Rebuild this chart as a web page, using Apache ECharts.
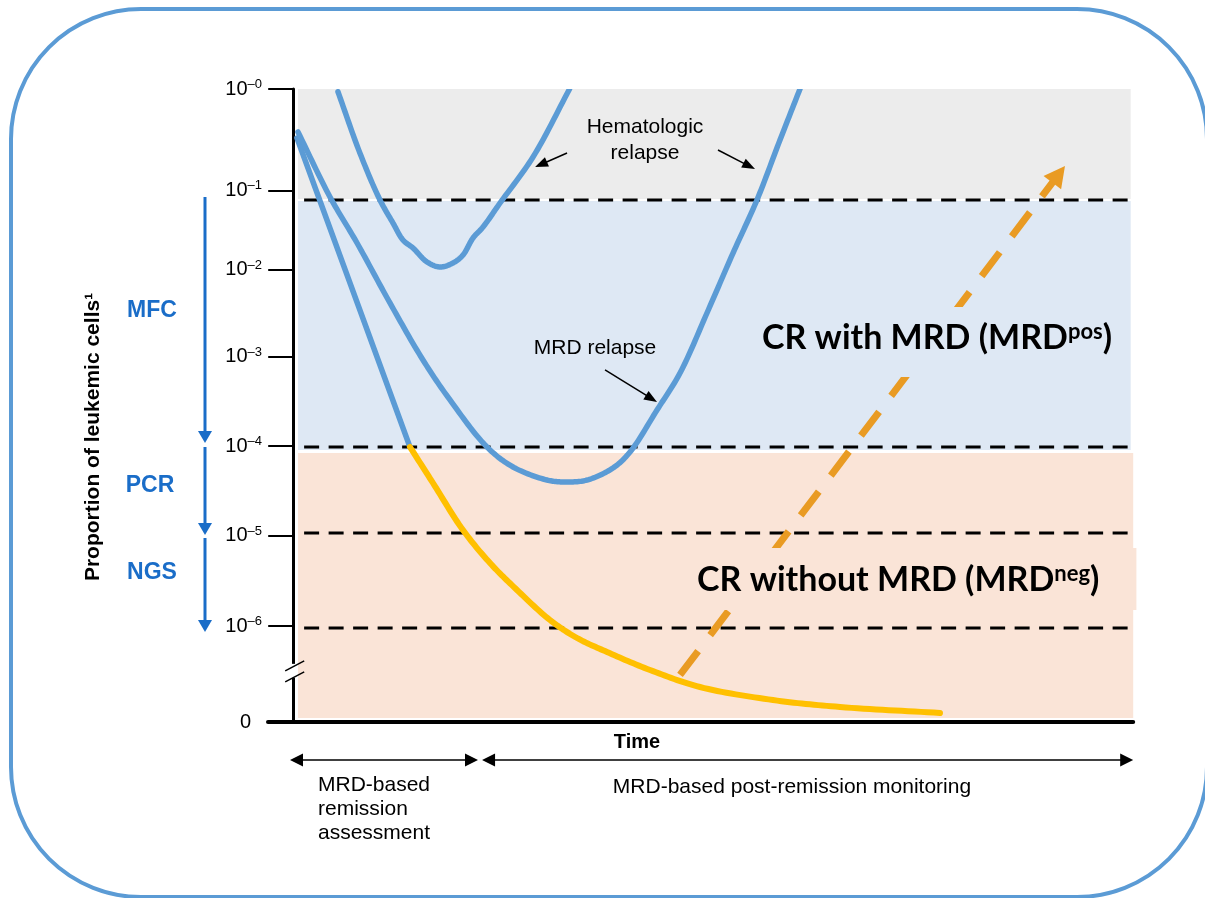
<!DOCTYPE html>
<html><head><meta charset="utf-8">
<script src="https://cdn.jsdelivr.net/npm/echarts@6/dist/echarts.min.js"></script>
<style>html,body{margin:0;padding:0;background:#fff}#c{width:1205px;height:898px}</style>
</head><body><div id="c"></div>
<script>
// ---------- data (schematic chart levels: 0 = 10^-0 ... -7 = "0") ----------
const yTickValues = [0, -1.12, -2.0, -2.96, -3.95, -4.94, -5.94, -7];
const yTickExponents = ['–0', '–1', '–2', '–3', '–4', '–5', '–6', ''];
const thresholdLevels = [-1.227, -3.959, -4.91, -5.96];
const thresholdSpan = [1.3, 99.6];
const zoneBounds = [
  [0.57, 0, 99.7, -1.216],
  [0.57, -1.239, 99.7, -3.992],
  [0.57, -4.025, 100, -6.956]
];
const hematologicRelapse = [[5.33,-0.03],[7.95,-0.71],[10.33,-1.227],[11.88,-1.482],[13.07,-1.67],[14.26,-1.758],[15.93,-1.913],[17.48,-1.968],[19.02,-1.924],[20.21,-1.836],[21.4,-1.648],[22.6,-1.526],[24.62,-1.261],[28.55,-0.752],[32.9,0]];
const directToNegative = [[0.45,-0.542],[13.9,-3.959]];
const mrdRelapse = [[0.57,-0.475],[4.38,-1.194],[7.6,-1.703],[11.52,-2.366],[15.45,-2.997],[18.67,-3.439],[23.07,-3.959],[26.17,-4.18],[30.21,-4.324],[32.36,-4.346],[34.98,-4.324],[38.07,-4.191],[40.1,-4.014],[43.31,-3.55],[46.05,-3.141],[49.26,-2.477],[52.36,-1.814],[55.21,-1.227],[57.95,-0.564],[60.33,0]];
const mrdNegative = [[13.9,-3.959],[16.64,-4.357],[20.21,-4.877],[23.43,-5.242],[26.64,-5.54],[30.57,-5.872],[33.79,-6.071],[37.36,-6.226],[42.48,-6.425],[48.43,-6.613],[57.12,-6.757],[65.1,-6.834],[77.0,-6.9]];
const mrdPositiveArrow = [[46.05,-6.48,91.88,-0.851]];
const calloutArrows = [[32.6,-0.708,28.79,-0.863],[50.57,-0.675,54.98,-0.885],[37.12,-3.107,43.31,-3.461]];
const methodArrows = [[-10.5,-1.194,-10.5,-3.915],[-10.5,-3.959,-10.5,-4.932],[-10.5,-4.965,-10.5,-6.005]];
const phaseArrows = [[-0.38,-7.42,22.0,-7.42],[22.48,-7.42,100,-7.42]];
const methodLabels = ['MFC', 'PCR', 'NGS'];
const methodLabelPos = [[-16.81,-2.455],[-17.05,-4.39],[-16.81,-5.352]];

// ---------- styles ----------
const zoneColors = ['#ECECEC', '#DEE8F4', '#FAE4D7'];
const BLUE = '#5B9BD5', YELLOW = '#FFC000', ORANGE = '#E99B23', METHOD = '#1A6DC8';
const SANS = 'Liberation Sans, Arial, sans-serif';
const CAL = 'Lato, Carlito, Calibri, sans-serif';

function arrowSeries(name, data, st) {
  return {
    type: 'custom', name, coordinateSystem: 'cartesian2d', silent: true, z: st.z || 6,
    clip: false, data, encode: { x: [0, 2], y: [1, 3] },
    renderItem: function (params, api) {
      const a = api.coord([api.value(0), api.value(1)]);
      const b = api.coord([api.value(2), api.value(3)]);
      const dx = b[0] - a[0], dy = b[1] - a[1], L = Math.hypot(dx, dy);
      const ux = dx / L, uy = dy / L, nx = -uy, ny = ux;
      const hl = st.headLen, hw = st.headW;
      const head = (tip, sx, sy) => {
        const bx = tip[0] - sx * hl, by = tip[1] - sy * hl;
        return { type: 'polygon', shape: { points: [tip, [bx + nx * hw / 2, by + ny * hw / 2], [bx - nx * hw / 2, by - ny * hw / 2]] }, style: { fill: st.color } };
      };
      const start = st.double ? [a[0] + ux * (hl - 1), a[1] + uy * (hl - 1)] : a;
      const end = [b[0] - ux * (hl - 1), b[1] - uy * (hl - 1)];
      const children = [{ type: 'line', shape: { x1: start[0], y1: start[1], x2: end[0], y2: end[1] },
        style: { stroke: st.color, lineWidth: st.lw, lineDash: st.dash || null, lineCap: 'butt' } }];
      children.push(head(b, ux, uy));
      if (st.double) children.push(head(a, -ux, -uy));
      return { type: 'group', children };
    }
  };
}

// centripetal Catmull-Rom through the pixel positions given by the axes
function spline(P, n) {
  if (P.length < 3) return P;
  const lerp = (a, b, ta, tb, t) => { const w = (t - ta) / (tb - ta); return [a[0] * (1 - w) + b[0] * w, a[1] * (1 - w) + b[1] * w]; };
  const d = (a, b) => Math.pow(Math.hypot(b[0] - a[0], b[1] - a[1]), 0.5) || 1e-4;
  const out = [P[0]];
  for (let i = 0; i < P.length - 1; i++) {
    const p1 = P[i], p2 = P[i + 1];
    const p0 = P[i - 1] || [2 * p1[0] - p2[0], 2 * p1[1] - p2[1]];
    const p3 = P[i + 2] || [2 * p2[0] - p1[0], 2 * p2[1] - p1[1]];
    const t0 = 0, t1 = t0 + d(p0, p1), t2 = t1 + d(p1, p2), t3 = t2 + d(p2, p3);
    for (let k = 1; k <= n; k++) {
      const t = t1 + (t2 - t1) * k / n;
      const A1 = lerp(p0, p1, t0, t1, t), A2 = lerp(p1, p2, t1, t2, t), A3 = lerp(p2, p3, t2, t3, t);
      const B1 = lerp(A1, A2, t0, t2, t), B2 = lerp(A2, A3, t1, t3, t);
      out.push(lerp(B1, B2, t1, t2, t));
    }
  }
  return out;
}
function curve(name, points, color, width, z) {
  return { type: 'custom', name, coordinateSystem: 'cartesian2d', silent: true, z, clip: true,
    data: [points[0]], encode: { x: 0, y: 1 },
    renderItem: function (params, api) {
      const px = points.map(p => api.coord(p));
      return { type: 'polyline', shape: { points: spline(px, 16) },
        style: { stroke: color, lineWidth: width, fill: null, lineJoin: 'round', lineCap: 'round' } };
    } };
}

const chart = echarts.init(document.getElementById('c'), null, { renderer: 'canvas' });
const option = {
  animation: false,
  backgroundColor: '#fff',
  grid: { left: 268, top: 89, width: 865.2, height: 633 },
  xAxis: { type: 'value', min: -3, max: 100,
    axisLine: { onZero: false, lineStyle: { color: '#000', width: 4 } },
    axisTick: { show: false }, axisLabel: { show: false }, splitLine: { show: false } },
  yAxis: { type: 'value', min: -7, max: 0,
    axisLine: { onZero: true, lineStyle: { color: '#000', width: 3 } },
    axisTick: { customValues: yTickValues, length: 25, lineStyle: { color: '#000', width: 2 } },
    axisLabel: { customValues: yTickValues, margin: 6,
      formatter: function (v) {
        let i = 0, best = 1e9;
        yTickValues.forEach((t, k) => { if (Math.abs(t - v) < best) { best = Math.abs(t - v); i = k; } });
        return yTickExponents[i] ? '{b|10}{s|' + yTickExponents[i] + '}' : '{z|0}';
      },
      rich: {
        b: { fontSize: 20, fontFamily: SANS, color: '#000', lineHeight: 22 },
        s: { fontSize: 13, fontFamily: SANS, color: '#000', verticalAlign: 'top', lineHeight: 14 },
        z: { fontSize: 20, fontFamily: SANS, color: '#000', padding: [0, 11, 0, 0] }
      } },
    splitLine: { show: false } },
  series: [
    { type: 'custom', name: 'zones', coordinateSystem: 'cartesian2d', silent: true, z: 1,
      data: zoneBounds, encode: { x: [0, 2], y: [1, 3] },
      renderItem: function (params, api) {
        const p1 = api.coord([api.value(0), api.value(1)]);
        const p2 = api.coord([api.value(2), api.value(3)]);
        return { type: 'rect', shape: { x: p1[0], y: p1[1], width: p2[0] - p1[0], height: p2[1] - p1[1] },
          style: { fill: zoneColors[params.dataIndex] } };
      } },
    { type: 'custom', name: 'thresholds', coordinateSystem: 'cartesian2d', silent: true, z: 2,
      data: thresholdLevels.map(v => [v]), encode: { y: 0 },
      renderItem: function (params, api) {
        const p1 = api.coord([thresholdSpan[0], api.value(0)]);
        const p2 = api.coord([thresholdSpan[1], api.value(0)]);
        return { type: 'line', shape: { x1: p1[0], y1: p1[1], x2: p2[0], y2: p2[1] },
          style: { stroke: '#000', lineWidth: 3, lineDash: [15, 9.5] } };
      } },
    { type: 'custom', name: 'axisBreak', coordinateSystem: 'cartesian2d', silent: true, z: 3,
      data: [[0, -6.44]], encode: { x: 0, y: 1 },
      renderItem: function (params, api) {
        const c = api.coord([api.value(0), api.value(1)]);
        return { type: 'group', children: [
          { type: 'rect', shape: { x: c[0] - 3, y: c[1] - 7.5, width: 6, height: 14 }, style: { fill: '#fff' } },
          { type: 'line', shape: { x1: c[0] - 8, y1: c[1] - 0.5, x2: c[0] + 11, y2: c[1] - 10.5 }, style: { stroke: '#000', lineWidth: 1.5 } },
          { type: 'line', shape: { x1: c[0] - 8, y1: c[1] + 10.5, x2: c[0] + 11, y2: c[1] + 0.5 }, style: { stroke: '#000', lineWidth: 1.5 } }
        ] };
      } },
    curve('hematologicRelapse', hematologicRelapse, BLUE, 5.5, 4),
    curve('directToNegative', directToNegative, BLUE, 5.5, 4),
    curve('mrdRelapse', mrdRelapse, BLUE, 5.5, 4),
    curve('mrdNegative', mrdNegative, YELLOW, 6, 5),
    arrowSeries('mrdPos', mrdPositiveArrow, { color: ORANGE, lw: 7, headLen: 21, headW: 22, dash: [30, 20], z: 6 }),
    arrowSeries('callouts', calloutArrows, { color: '#000', lw: 1.5, headLen: 13, headW: 10, z: 7 }),
    arrowSeries('methods', methodArrows, { color: METHOD, lw: 3, headLen: 12, headW: 14, z: 7 }),
    arrowSeries('phases', phaseArrows, { color: '#000', lw: 1.5, headLen: 13, headW: 13, double: true, z: 7 })
  ]
};
chart.setOption(option);

const P = (x, y) => chart.convertToPixel({ gridIndex: 0 }, [x, y]);
function txt(pos, text, extra, z) {
  const p = P(pos[0], pos[1]);
  const style = Object.assign({ text, fill: '#000', align: 'center', verticalAlign: 'middle',
    textAlign: 'center', textVerticalAlign: 'middle' }, extra);
  return { type: 'text', x: p[0], y: p[1], z: z || 100, style, silent: true };
}
const g = [];
g.push({ type: 'rect', z: 100, silent: true, shape: { x: 11, y: 9, width: 1196, height: 888, r: 130 },
  style: { fill: 'none', stroke: BLUE, lineWidth: 4 } });
const yn = txt([-23.83, -3.848], 'Proportion of leukemic cells¹', { font: 'bold 21px ' + SANS });
yn.rotation = Math.PI / 2; g.push(yn);
methodLabels.forEach((m, i) => g.push(txt(methodLabelPos[i], m, { font: 'bold 23px ' + SANS, fill: METHOD })));
g.push(txt([40.93, -7.221], 'Time', { font: 'bold 20px ' + SANS }));
g.push(txt([2.95, -7.564], 'MRD-based\nremission\nassessment', { font: '21px ' + SANS, align: 'left', textAlign: 'left', verticalAlign: 'top', textVerticalAlign: 'top', lineHeight: 24 }));
g.push(txt([59.38, -7.719], 'MRD-based post-remission monitoring', { font: '21px ' + SANS }));
g.push(txt([41.88, -0.564], 'Hematologic\nrelapse', { font: '21px ' + SANS, lineHeight: 26 }));
g.push(txt([35.93, -2.864], 'MRD relapse', { font: '21px ' + SANS }));
g.push(txt([54.38, -2.411], 'CR with MRD (MRD{sup|pos})', {
  font: 'bold 34px ' + CAL, align: 'left', textAlign: 'left', verticalAlign: 'top', textVerticalAlign: 'top',
  backgroundColor: zoneColors[1], padding: [14, 8, 22, 12],
  rich: { sup: { fontSize: 22, fontWeight: 'bold', fontFamily: CAL, verticalAlign: 'top', fill: '#000', lineHeight: 24 } }
}));
g.push(txt([46.05, -5.076], 'CR without MRD (MRD{sup|neg})', {
  font: 'bold 34px ' + CAL, align: 'left', textAlign: 'left', verticalAlign: 'top', textVerticalAlign: 'top',
  backgroundColor: zoneColors[2], padding: [15, 37, 13, 17],
  rich: { sup: { fontSize: 22, fontWeight: 'bold', fontFamily: CAL, verticalAlign: 'top', fill: '#000', lineHeight: 24 } }
}));
chart.setOption({ graphic: g });
</script></body></html>
